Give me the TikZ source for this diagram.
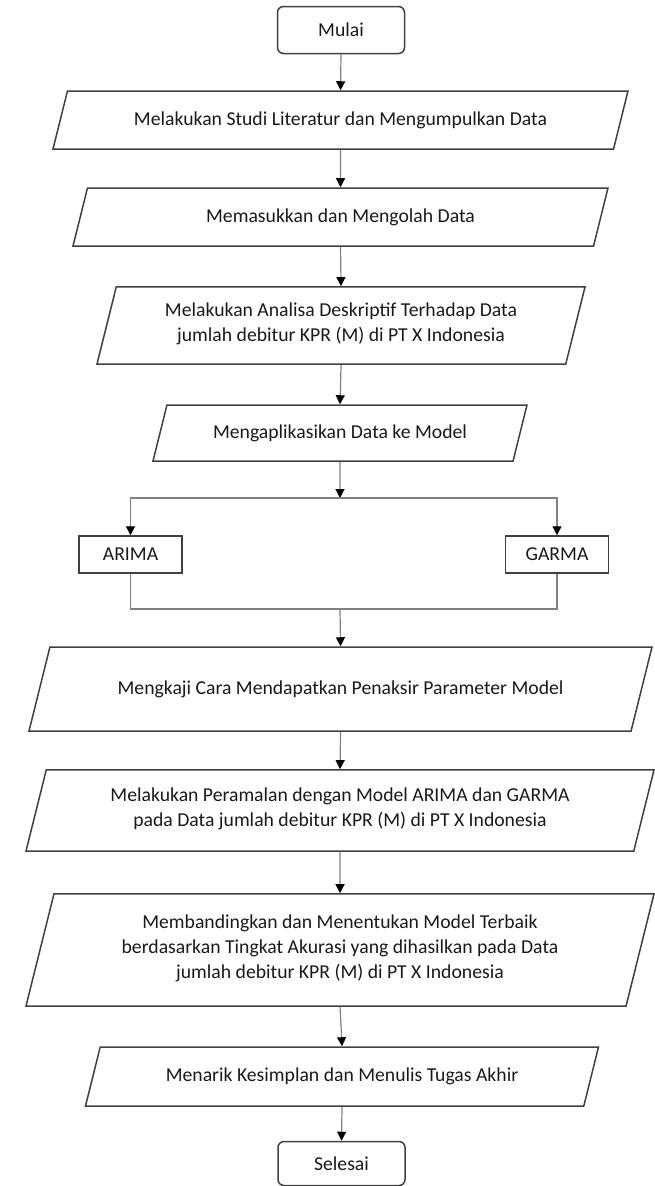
\documentclass[tikz,border=0pt]{standalone}
\usepackage{fontspec}
\setmainfont{Carlito}
\usetikzlibrary{shapes.geometric,arrows.meta}

\begin{document}
\begin{tikzpicture}[x=1pt, y=-1pt,
  every node/.style = {font=\fontsize{19.7}{25}\selectfont, text=black!90},
  term/.style  = {draw=black!75, line width=1.5pt, rounded corners=6pt,
                  minimum width=127pt, minimum height=#1, inner sep=0pt},
  io/.style    = {draw=black!75, line width=1.5pt, trapezium,
                  trapezium left angle=76, trapezium right angle=104,
                  trapezium stretches body, minimum width=#1,
                  align=center, inner xsep=2pt,
                  execute at begin node=\strut, execute at end node=\strut},
  model/.style = {draw=black!75, line width=1.5pt, minimum width=103pt,
                  minimum height=37pt, inner sep=0pt},
  line/.style  = {draw=black!50, line width=1.2pt},
  arr/.style   = {line, -{Triangle[length=9pt, width=9pt, color=black]}}
]
  \useasboundingbox (0,0) rectangle (654,1186);

  % Start
  \node[term=47pt] (start) at (341,30) {Mulai};

  % Steps before the models
  \node[io=575pt, inner ysep=16.5pt] (lit) at (340.5,120)
      {Melakukan Studi Literatur dan Mengumpulkan Data};
  \node[io=535pt, inner ysep=16.5pt] (input) at (340.5,217)
      {Memasukkan dan Mengolah Data};
  \node[io=488pt, inner ysep=15.5pt] (desc) at (341,325.5)
      {Melakukan Analisa Deskriptif Terhadap Data\\jumlah debitur KPR (M) di PT X Indonesia};
  \node[io=374pt, inner ysep=15.5pt] (apply) at (340,433)
      {Mengaplikasikan Data ke Model};

  % Models
  \coordinate (split) at (340,498);
  \node[model] (arima) at (130.5,554.5) {ARIMA};
  \node[model] (garma) at (557,554.5) {GARMA};
  \coordinate (merge) at (340,609);

  % Steps after the models
  \node[io=623pt, inner ysep=29.5pt] (estim) at (340.5,689)
      {Mengkaji Cara Mendapatkan Penaksir Parameter Model};
  \node[io=628pt, inner ysep=17.5pt] (fcast) at (340,810.5)
      {Melakukan Peramalan dengan Model ARIMA dan GARMA\\pada Data jumlah debitur KPR (M) di PT X Indonesia};
  \node[io=628pt, inner ysep=20.5pt] (compare) at (340,950)
      {Membandingkan dan Menentukan Model Terbaik\\berdasarkan Tingkat Akurasi yang dihasilkan pada Data\\jumlah debitur KPR (M) di PT X Indonesia};
  \node[io=513pt, inner ysep=17pt] (concl) at (342,1076.5)
      {Menarik Kesimplan dan Menulis Tugas Akhir};

  % End
  \node[term=44pt] (stop) at (341.5,1163.5) {Selesai};

  % Arrows
  \draw[arr] (start.south) -- (lit.north);
  \draw[arr] (lit.south) -- (input.north);
  \draw[arr] (input.south) -- (desc.north);
  \draw[arr] (desc.south) -- (apply.north);
  \draw[arr] (apply.south) -- (split);
  \draw[arr] (split) -| (arima.north);
  \draw[arr] (split) -| (garma.north);
  \draw[line] (arima.south) |- (merge);
  \draw[line] (garma.south) |- (merge);
  \draw[arr] (merge) -- (estim.north);
  \draw[arr] (estim.south) -- (fcast.north);
  \draw[arr] (fcast.south) -- (compare.north);
  \draw[arr] (compare.south) -- (concl.north);
  \draw[arr] (concl.south) -- (stop.north);

\end{tikzpicture}
\end{document}
